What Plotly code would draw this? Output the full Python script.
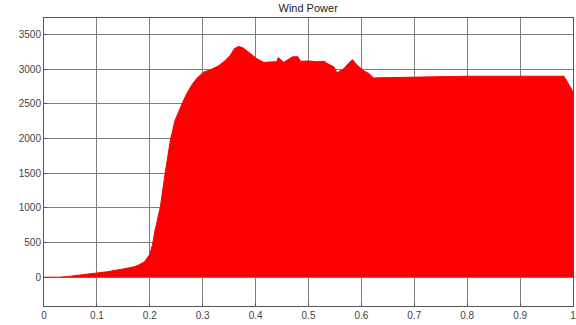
import plotly.graph_objects as go

time_s = [0, 0.03, 0.05, 0.08, 0.1, 0.12, 0.15, 0.17, 0.18, 0.19, 0.2, 0.205, 0.21, 0.22, 0.229,
          0.239, 0.248, 0.258, 0.264, 0.27, 0.28, 0.289, 0.302, 0.314, 0.33, 0.34, 0.352,
          0.36, 0.368, 0.376, 0.39, 0.403, 0.415, 0.43, 0.44, 0.443, 0.453, 0.47, 0.48,
          0.485, 0.5, 0.515, 0.53, 0.535, 0.548, 0.554, 0.567, 0.575, 0.583, 0.592, 0.605,
          0.614, 0.623, 0.65, 0.7, 0.8, 0.9, 0.983, 1.0]
power_w = [0, 0, 15, 40, 60, 80, 120, 150, 180, 225, 330, 470, 680, 1017, 1500,
           1980, 2270, 2460, 2555, 2650, 2780, 2870, 2960, 2990, 3050, 3110, 3200,
           3300, 3330, 3310, 3230, 3150, 3100, 3100, 3110, 3170, 3100, 3180, 3180,
           3115, 3120, 3110, 3115, 3085, 3035, 2950, 3010, 3080, 3140, 3060, 2975,
           2940, 2875, 2880, 2890, 2900, 2900, 2900, 2675]

x_ticks = [0, 0.1, 0.2, 0.3, 0.4, 0.5, 0.6, 0.7, 0.8, 0.9, 1]
x_labels = ["0", "0.1", "0.2", "0.3", "0.4", "0.5", "0.6", "0.7", "0.8", "0.9", "1"]
y_ticks = [0, 500, 1000, 1500, 2000, 2500, 3000, 3500]

fig = go.Figure()
fig.add_trace(go.Scatter(x=time_s, y=power_w, mode="lines", fill="tozeroy",
                         fillcolor="#FF0000", line=dict(color="#FF0000", width=1)))

axis_common = dict(showgrid=True, gridcolor="#7f7f7f", gridwidth=1, zeroline=False,
                   showline=True, linecolor="#555555", linewidth=1, mirror=True,
                   ticks="inside", ticklen=3, tickcolor="#555555",
                   ticklabeloverflow="allow",
                   tickfont=dict(family="Liberation Sans, Arial", size=10, color="#444444"))

fig.update_layout(
    width=576, height=325,
    margin=dict(l=44, r=3, t=18, b=19),
    paper_bgcolor="white", plot_bgcolor="white",
    showlegend=False,
    title=dict(text="Wind Power", x=0.535, xanchor="center", y=0.975, yanchor="middle",
               font=dict(family="Liberation Sans, Arial", size=11, color="#222222")),
    xaxis=dict(range=[0, 1], tickvals=x_ticks, ticktext=x_labels, **axis_common),
    yaxis=dict(range=[-415, 3740], tickvals=y_ticks, **axis_common),
)
fig.update_xaxes(automargin=False)
fig.update_yaxes(automargin=False)

fig.write_html("out.html")
